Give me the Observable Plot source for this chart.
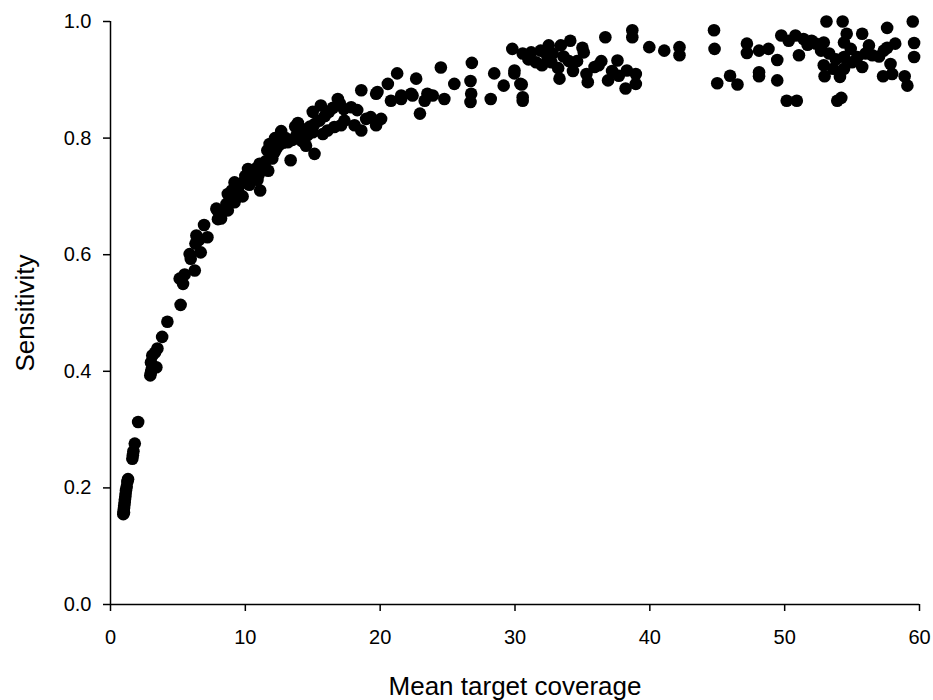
<!DOCTYPE html>
<html><head><meta charset="utf-8">
<script src="https://cdn.jsdelivr.net/npm/d3@7"></script>
<script src="https://cdn.jsdelivr.net/npm/@observablehq/plot@0.6"></script>
<style>body{margin:0;background:#fff}</style>
</head><body><div id="chart"></div>
<script>
const coverage = [
0.95,0.97,1.00,1.02,1.05,1.07,1.10,1.12,1.15,1.20,1.25,1.30,1.00,1.62,1.66,1.70,1.80,2.05,
2.95,3.00,3.05,3.20,3.40,3.00,3.10,3.30,3.48,3.83,4.22,
5.20,5.38,5.13,5.50,6.25,5.95,5.87,6.69,6.30,6.37,6.55,7.19,6.94,7.97,7.93,8.20,8.70,9.20,7.85,8.60,8.70,9.20,9.80,
10.20,10.57,11.10,11.06,11.70,11.80,11.63,12.17,12.66,13.36,13.15,13.90,13.78,14.50,15.13,15.00,15.00,15.60,16.10,16.86,17.10,17.85,18.60,18.60,18.96,19.70,19.70,
8.90,9.00,9.40,9.60,9.90,10.00,10.30,10.50,10.80,11.00,11.30,11.50,12.00,12.30,12.50,12.80,13.00,13.50,14.00,14.20,14.60,14.80,15.50,15.75,15.90,16.20,16.60,16.50,17.35,17.30,18.10,18.30,17.00,15.13,9.50,10.90,12.20,13.70,14.30,
19.30,20.07,19.80,20.57,21.26,20.80,21.56,21.56,22.67,22.30,22.40,22.95,23.30,23.50,23.90,24.50,24.76,25.50,26.80,26.70,26.75,26.70,28.20,28.46,29.16,29.95,30.50,30.57,29.80,30.57,
30.57,31.20,31.90,32.50,33.40,34.10,35.10,31.56,32.40,33.20,34.00,34.60,33.30,35.40,35.90,36.40,36.70,36.90,37.60,37.70,38.20,38.70,38.70,38.96,38.96,38.30,29.96,30.40,32.00,32.80,33.60,34.30,35.00,31.00,32.70,35.30,36.20,37.20,
39.96,41.07,42.20,42.20,44.76,44.80,45.00,45.95,46.50,47.20,47.20,48.10,48.80,48.10,48.10,49.45,49.45,49.75,50.15,50.90,50.30,50.80,51.06,51.40,52.00,52.70,52.90,53.10,52.90,52.96,53.60,54.30,54.60,54.40,54.40,54.90,54.40,53.90,54.20,55.75,55.40,55.75,56.25,56.50,57.60,57.35,58.20,57.85,57.97,57.30,58.90,59.10,59.50,59.60,59.60,
53.30,53.80,55.00,56.00,57.00,57.60,54.10,52.30,51.70
];
const sensitivity = [
0.155,0.160,0.165,0.170,0.175,0.180,0.185,0.190,0.196,0.202,0.210,0.215,0.158,0.250,0.256,0.263,0.276,0.313,
0.393,0.398,0.403,0.408,0.407,0.415,0.427,0.432,0.439,0.459,0.485,
0.514,0.550,0.559,0.566,0.573,0.593,0.601,0.604,0.619,0.633,0.625,0.630,0.651,0.661,0.676,0.662,0.676,0.690,0.679,0.687,0.704,0.724,0.700,
0.747,0.733,0.710,0.756,0.744,0.790,0.779,0.776,0.812,0.762,0.793,0.826,0.804,0.787,0.773,0.810,0.845,0.856,0.813,0.867,0.822,0.853,0.813,0.882,0.833,0.876,0.822,
0.695,0.710,0.715,0.720,0.725,0.735,0.720,0.742,0.748,0.738,0.752,0.760,0.765,0.782,0.788,0.792,0.800,0.797,0.810,0.795,0.805,0.820,0.830,0.807,0.838,0.845,0.819,0.852,0.830,0.850,0.822,0.848,0.860,0.824,0.706,0.728,0.800,0.820,0.815,
0.836,0.833,0.879,0.893,0.911,0.864,0.867,0.873,0.902,0.876,0.873,0.842,0.864,0.876,0.873,0.921,0.867,0.893,0.929,0.898,0.876,0.862,0.867,0.911,0.890,0.911,0.892,0.864,0.953,0.870,
0.945,0.947,0.950,0.959,0.959,0.967,0.947,0.930,0.940,0.920,0.932,0.932,0.902,0.896,0.922,0.932,0.973,0.899,0.933,0.907,0.885,0.985,0.973,0.910,0.893,0.916,0.916,0.893,0.925,0.945,0.940,0.915,0.955,0.935,0.930,0.910,0.925,0.915,
0.956,0.950,0.956,0.942,0.985,0.953,0.894,0.907,0.892,0.962,0.946,0.950,0.953,0.913,0.906,0.934,0.899,0.976,0.864,0.864,0.967,0.976,0.942,0.970,0.967,0.950,0.964,1.000,0.925,0.906,0.919,1.000,0.979,0.964,0.939,0.953,0.919,0.864,0.869,0.979,0.939,0.922,0.959,0.942,0.989,0.950,0.962,0.927,0.910,0.906,0.906,0.890,1.000,0.963,0.939,
0.945,0.935,0.930,0.945,0.940,0.955,0.905,0.962,0.960
];
const xTicks = [0, 10, 20, 30, 40, 50, 60];
const yTicks = [0, 0.2, 0.4, 0.6, 0.8, 1.0];
const xLabel = "Mean target coverage";
const yLabel = "Sensitivity";

const data = coverage.map((c, i) => ({coverage: c, sensitivity: sensitivity[i]}));

const chart = Plot.plot({
  width: 933, height: 700,
  marginLeft: 110, marginRight: 14, marginTop: 21, marginBottom: 96,
  style: {fontFamily: "'Liberation Sans', Arial, sans-serif", fontSize: "20px", background: "#fff", color: "#000"},
  x: {domain: [0, 60]},
  y: {domain: [0, 1]},
  marks: [
    Plot.axisX({ticks: xTicks, tickSize: 7, tickPadding: 18, label: null, fontSize: 20, strokeWidth: 1.5}),
    Plot.axisY({ticks: yTicks, tickFormat: d3.format(".1f"), tickSize: 7, tickPadding: 12, label: null, fontSize: 20, strokeWidth: 1.5}),
    Plot.ruleX([0], {strokeWidth: 1.5}),
    Plot.ruleY([0], {strokeWidth: 1.5}),
    Plot.text([xLabel], {text: d => d, frameAnchor: "bottom", dy: 82, lineAnchor: "middle", textAnchor: "middle", fontSize: 26}),
    Plot.text([yLabel], {text: d => d, frameAnchor: "left", dx: -85, rotate: -90, lineAnchor: "middle", textAnchor: "middle", fontSize: 26}),
    Plot.dot(data, {x: "coverage", y: "sensitivity", r: 6.3, fill: "#000", stroke: "none"})
  ]
});
document.getElementById("chart").appendChild(chart);
</script>
</body></html>
